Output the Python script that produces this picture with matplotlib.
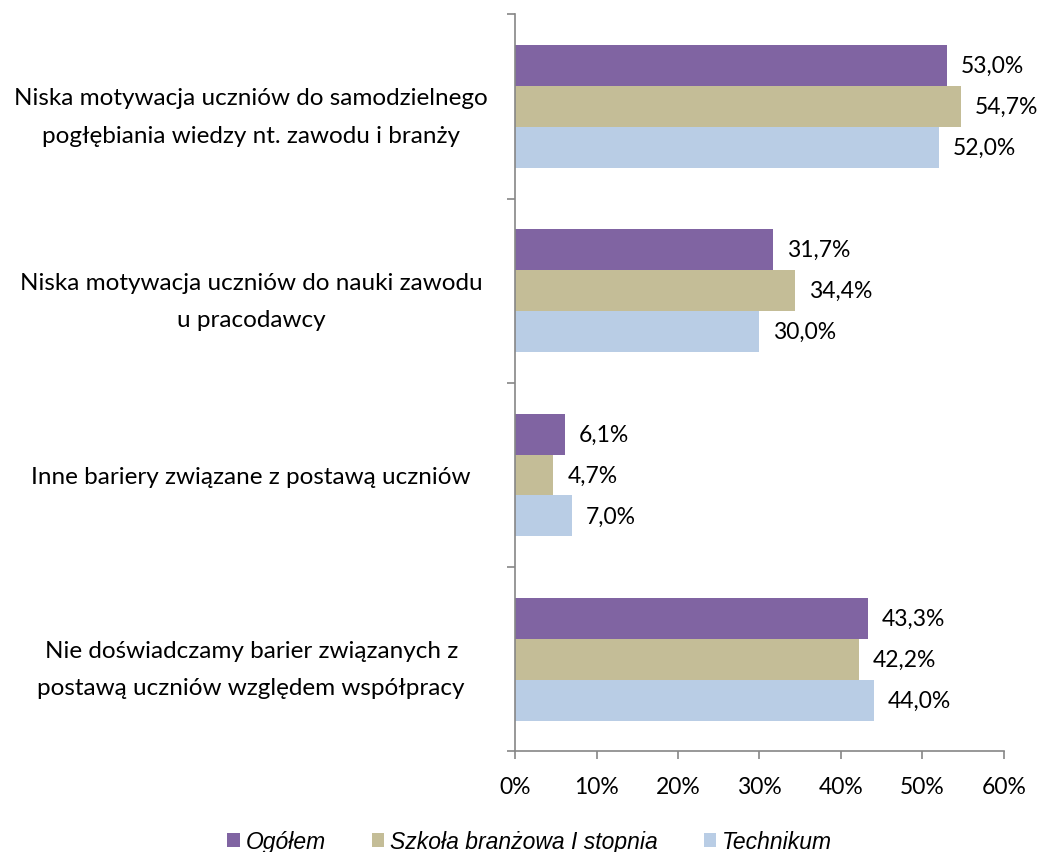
import matplotlib.pyplot as plt
import matplotlib.patches as patches
import numpy as np

categories = [
    "Niska motywacja uczniów do samodzielnego\npogłębiania wiedzy nt. zawodu i branży",
    "Niska motywacja uczniów do nauki zawodu\nu pracodawcy",
    "Inne bariery związane z postawą uczniów",
    "Nie doświadczamy barier związanych z\npostawą uczniów względem współpracy",
]
series_names = ["Ogółem", "Szkoła branżowa I stopnia", "Technikum"]
ogolem = [53.0, 31.7, 6.1, 43.3]
branzowa = [54.7, 34.4, 4.7, 42.2]
technikum = [52.0, 30.0, 7.0, 44.0]
colors = ["#8064A2", "#C4BD97", "#B9CDE5"]
x_ticks = [0, 10, 20, 30, 40, 50, 60]

fig = plt.figure(figsize=(10.49, 8.53), dpi=100)
ax = fig.add_axes([0.491, 0.118, 0.466, 0.864])

font = "Lato"
bar_h = 0.222
centers = np.arange(len(categories))[::-1] + 0.5

for k, (vals, col) in enumerate(zip([ogolem, branzowa, technikum], colors)):
    ys = centers + (1 - k) * bar_h
    ax.barh(ys, vals, height=bar_h, color=col, edgecolor="none")
    for y, v in zip(ys, vals):
        ax.annotate(f"{v:.1f}%".replace(".", ","), (v, y), xytext=(10, 0),
                    textcoords="offset points", ha="left", va="center",
                    fontsize=16.5, family=font, color="#000000")

ax.set_xlim(0, 60)
ax.set_ylim(0, len(categories))
ax.set_xticks(x_ticks)
ax.set_xticklabels([f"{t}%" for t in x_ticks], fontsize=16.5, family=font)
ax.set_yticks(range(len(categories) + 1))
ax.set_yticklabels([])
ax.set_yticks(centers, minor=True)
ax.set_yticklabels(categories, minor=True, fontsize=17.5, family=font,
                   ha="center", linespacing=1.95)
ax.tick_params(axis="y", which="minor", length=0, pad=190)
ax.tick_params(axis="y", which="major", length=6, color="#868686", width=1.2)
ax.tick_params(axis="x", length=6, color="#868686", width=1.2, pad=12)

for side in ["top", "right"]:
    ax.spines[side].set_visible(False)
for side in ["left", "bottom"]:
    ax.spines[side].set_color("#868686")
    ax.spines[side].set_linewidth(1.2)

handles = [patches.Patch(facecolor=c, edgecolor="none") for c in colors]
fig.legend(handles, series_names, loc="center", bbox_to_anchor=(0.505, 0.012),
           ncol=3, frameon=False, handlelength=0.55, handleheight=0.55,
           handletextpad=0.25, columnspacing=2.0,
           prop={"family": "Liberation Sans", "style": "italic", "size": 16.5})

fig.savefig("out.png", dpi=100)
